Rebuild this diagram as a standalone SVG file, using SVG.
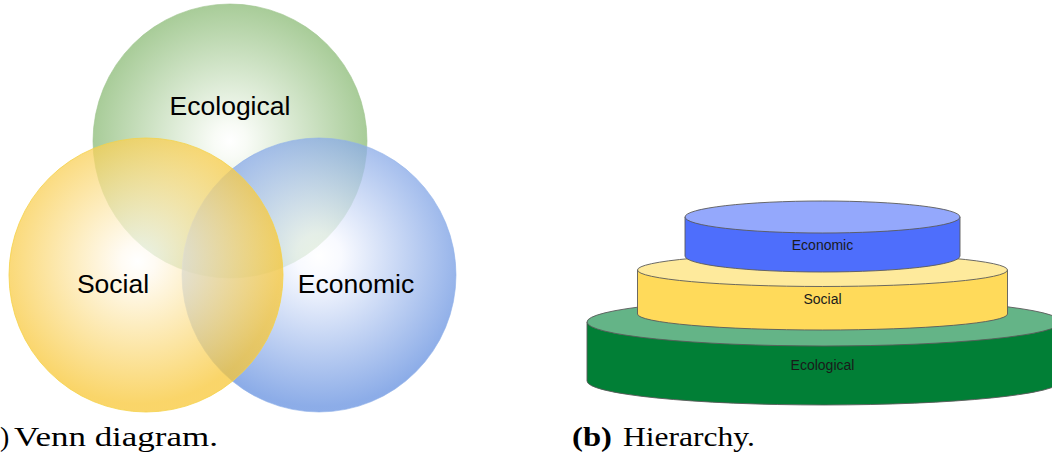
<svg xmlns="http://www.w3.org/2000/svg" width="1052" height="453" viewBox="0 0 1052 453">
  <defs>
    <radialGradient id="gGreen" cx="50%" cy="50%" r="50%">
      <stop offset="0" stop-color="#ffffff"/>
      <stop offset="0.12" stop-color="#f6faf3"/>
      <stop offset="1" stop-color="#8bbb76"/>
    </radialGradient>
    <radialGradient id="gYellow" cx="47%" cy="45%" r="52%">
      <stop offset="0" stop-color="#ffffff"/>
      <stop offset="0.12" stop-color="#fffaf0"/>
      <stop offset="1" stop-color="#f8c737"/>
    </radialGradient>
    <radialGradient id="gBlue" cx="50%" cy="43%" r="55%">
      <stop offset="0" stop-color="#ffffff"/>
      <stop offset="0.15" stop-color="#f6f8ff"/>
      <stop offset="1" stop-color="#6691e0"/>
    </radialGradient>
    <style>
      .venn { fill-opacity: 0.75; stroke-width: 1; }
      .vlabel { font-family: "Liberation Sans", Arial, sans-serif; font-size: 26.5px; fill: #000; text-anchor: middle; }
      .side { stroke: #5a5a5a; stroke-width: 0.9; }
      .lid { stroke: #5a5a5a; stroke-width: 0.9; }
      .hlabel { font-family: "Liberation Sans", Arial, sans-serif; font-size: 14px; fill: #1a1a1a; text-anchor: middle; }
      .cap { font-family: "Liberation Serif", "Times New Roman", serif; font-size: 28px; fill: #000; }
    </style>
  </defs>

  <!-- Venn diagram: three translucent circles -->
  <g id="venn">
    <g id="venn-ecological">
      <circle class="venn" cx="230" cy="141" r="137" fill="url(#gGreen)" stroke="#9ec58e" stroke-opacity="0.6"/>
    </g>
    <g id="venn-economic">
      <circle class="venn" cx="319" cy="275" r="137" fill="url(#gBlue)" stroke="#8fb0ea" stroke-opacity="0.6"/>
    </g>
    <g id="venn-social">
      <circle class="venn" cx="146" cy="275" r="137" fill="url(#gYellow)" stroke="#f5d24a" stroke-opacity="0.8"/>
    </g>
    <text class="vlabel" x="230" y="115">Ecological</text>
    <text class="vlabel" x="113" y="293">Social</text>
    <text class="vlabel" x="356" y="293">Economic</text>
  </g>

  <!-- Hierarchy: stacked cylinders -->
  <g id="tier-ecological">
    <path class="side" fill="#017f36" d="M587 322 L587 381 A237 24 0 0 0 1061 381 L1061 322 Z"/>
    <ellipse class="lid" cx="824" cy="322" rx="237" ry="24" fill="#64b487"/>
    <text class="hlabel" x="822.5" y="370">Ecological</text>
  </g>
  <g id="tier-social">
    <path class="side" fill="#ffda5a" d="M637.5 270 L637.5 314 A185 16 0 0 0 1007.5 314 L1007.5 270 Z"/>
    <ellipse class="lid" cx="822.5" cy="270" rx="185" ry="16.5" fill="#feea9c"/>
    <text class="hlabel" x="822.5" y="304">Social</text>
  </g>
  <g id="tier-economic">
    <path class="side" fill="#4e6efc" d="M685 217 L685 256 A137.5 16 0 0 0 960 256 L960 217 Z"/>
    <ellipse class="lid" cx="822.5" cy="217" rx="137.5" ry="16" fill="#94a8fc"/>
    <text class="hlabel" x="822.5" y="250">Economic</text>
  </g>

  <!-- Sub-figure captions -->
  <g id="captions">
    <text class="cap" x="0" y="446">)</text>
    <text class="cap" x="14" y="446" textLength="204" lengthAdjust="spacingAndGlyphs">Venn diagram.</text>
    <text class="cap" x="572" y="446" font-weight="bold" textLength="40" lengthAdjust="spacingAndGlyphs">(b)</text>
    <text class="cap" x="623" y="446" textLength="132" lengthAdjust="spacingAndGlyphs">Hierarchy.</text>
  </g>
</svg>
